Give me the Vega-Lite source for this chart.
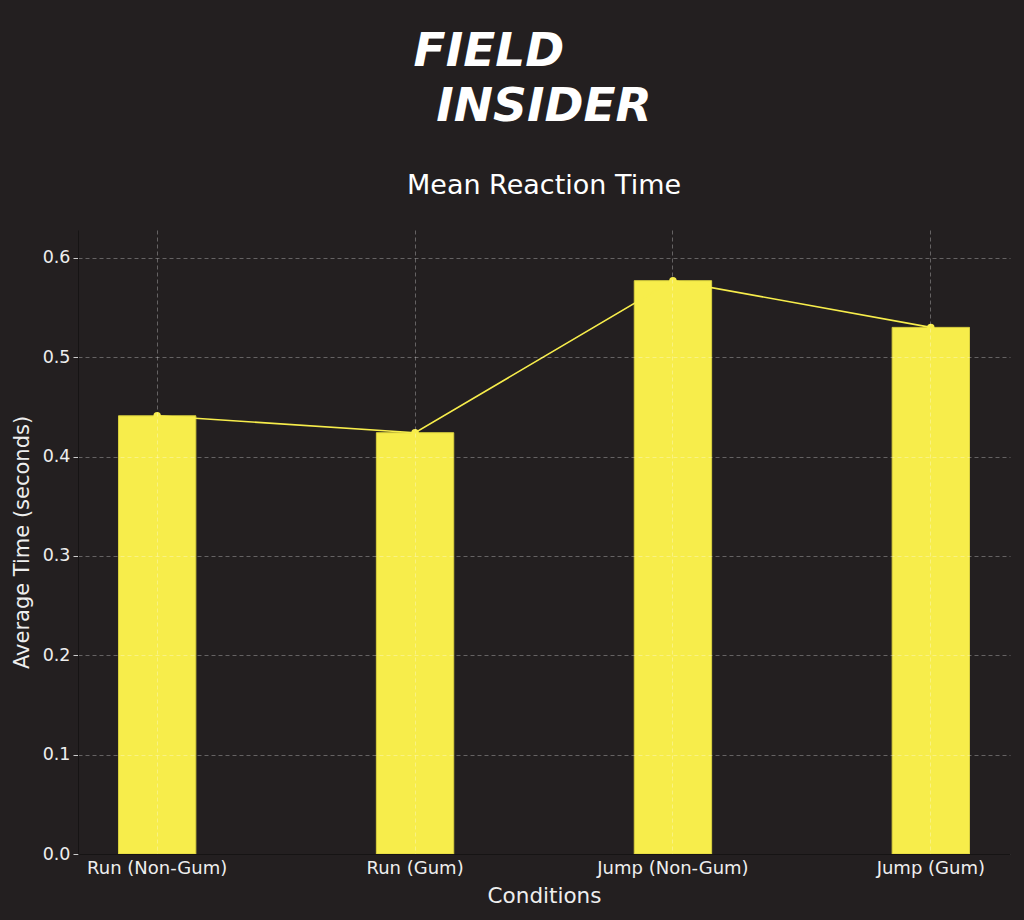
{
  "$schema": "https://vega.github.io/schema/vega-lite/v6.json",
  "width": 932,
  "height": 624,
  "autosize": {"type": "none"},
  "padding": {"left": 78, "top": 230, "right": 14, "bottom": 66},
  "background": "#231f20",
  "title": {
    "text": ["FIELD\u2800\u2800\u2800", "INSIDER"],
    "subtitle": "Mean Reaction Time",
    "anchor": "middle",
    "font": "DejaVu Sans",
    "fontSize": 47,
    "fontWeight": "bold",
    "fontStyle": "oblique",
    "color": "#ffffff",
    "lineHeight": 55,
    "subtitleFont": "DejaVu Sans",
    "subtitleFontSize": 27,
    "subtitleFontWeight": "normal",
    "subtitleFontStyle": "normal",
    "subtitleColor": "#ffffff",
    "subtitlePadding": 42,
    "offset": 30
  },
  "data": {
    "values": [
      {"condition": "Run (Non-Gum)", "time": 0.441},
      {"condition": "Run (Gum)", "time": 0.424},
      {"condition": "Jump (Non-Gum)", "time": 0.577},
      {"condition": "Jump (Gum)", "time": 0.53}
    ]
  },
  "encoding": {
    "x": {
      "field": "condition",
      "type": "nominal",
      "sort": null,
      "scale": {"paddingInner": 0.7, "paddingOuter": 0.157},
      "axis": {
        "title": "Conditions",
        "labelAngle": 0,
        "labelFontSize": 18,
        "labelColor": "#eeeeee",
        "labelFont": "DejaVu Sans",
        "labelPadding": 5,
        "ticks": false,
        "titleFont": "DejaVu Sans",
        "titleFontSize": 21.5,
        "titleFontWeight": "normal",
        "titleColor": "#eeeeee",
        "titlePadding": 8,
        "bandPosition": 0.5,
        "grid": true,
        "gridColor": "#ffffff",
        "gridOpacity": 0.3,
        "gridDash": [4, 3],
        "domainColor": "#161414",
        "zindex": 1
      }
    },
    "y": {
      "field": "time",
      "type": "quantitative",
      "scale": {"domain": [0, 0.628], "nice": false},
      "axis": {
        "title": "Average Time (seconds)",
        "values": [0, 0.1, 0.2, 0.3, 0.4, 0.5, 0.6],
        "format": ".1f",
        "labelFontSize": 17.5,
        "labelColor": "#eeeeee",
        "labelFont": "DejaVu Sans",
        "labelPadding": 3,
        "tickSize": 5,
        "tickColor": "#cccccc",
        "titleFont": "DejaVu Sans",
        "titleFontSize": 21,
        "titleFontWeight": "normal",
        "titleColor": "#eeeeee",
        "titlePadding": 10,
        "grid": true,
        "gridColor": "#ffffff",
        "gridOpacity": 0.3,
        "gridDash": [4, 3],
        "domainColor": "#161414",
        "zindex": 1
      }
    }
  },
  "layer": [
    {"mark": {"type": "bar", "color": "#f7ed4b", "stroke": "#d8cf3e", "strokeWidth": 1}},
    {"mark": {"type": "line", "color": "#f7ed4b", "strokeWidth": 1.6}},
    {"mark": {"type": "point", "filled": true, "color": "#f7ed4b", "size": 55, "opacity": 1}}
  ],
  "config": {"view": {"stroke": null}}
}
